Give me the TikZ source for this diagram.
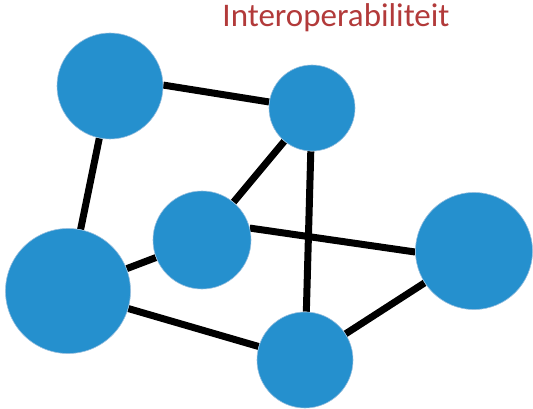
\documentclass[tikz,border=0pt]{standalone}
\usepackage{fontspec}
\setmainfont{Carlito}
\usepackage{xcolor}
\usetikzlibrary{backgrounds}
\definecolor{nodeblue}{RGB}{37,144,206}
\definecolor{rimblue}{RGB}{150,190,222}
\definecolor{titlered}{RGB}{178,58,58}

\begin{document}
\begin{tikzpicture}[x=1pt, y=-1pt,
  hub/.style={circle, fill=nodeblue, draw=rimblue, line width=0.6pt, inner sep=0pt},
  link/.style={black, line width=7pt}]
\useasboundingbox (0,0) rectangle (533,409);
\node[anchor=base, text=titlered, font=\fontsize{33}{36}\selectfont] (title) at (336,27) {Interoperabiliteit};
\node[hub, minimum size=106pt] (a) at (110,86) {};
\node[hub, minimum size=86pt] (b) at (312,108) {};
\node[hub, minimum size=98pt] (c) at (202,240) {};
\node[hub, minimum size=117pt] (d) at (474,251) {};
\node[hub, minimum size=125pt] (e) at (68,291) {};
\node[hub, minimum size=96pt] (f) at (305,360) {};
\begin{scope}[on background layer]
\draw[link] (a.1) -- (b.172);
\draw[link] (a) -- (e);
\draw[link] (b) -- (c);
\draw[link] (b) -- (f);
\draw[link] (c.14) -- (d.181);
\draw[link] (c) -- (e);
\draw[link] (e) -- (f);
\draw[link] (f) -- (d);
\end{scope}
\end{tikzpicture}
\end{document}
